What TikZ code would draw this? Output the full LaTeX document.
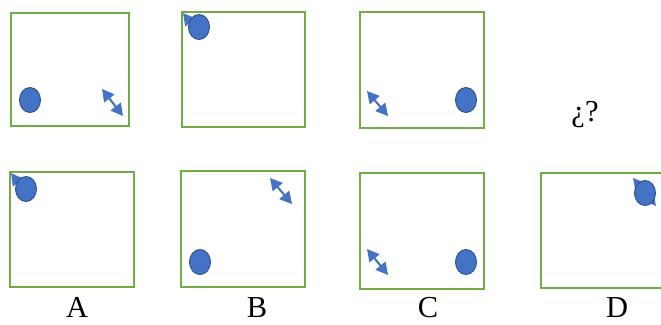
\documentclass[tikz,border=0pt]{standalone}
\usepackage{fontspec}
\setmainfont{Liberation Serif}
\usetikzlibrary{arrows.meta, shapes.geometric}
\definecolor{framegreen}{HTML}{70AD47}
\definecolor{ballblue}{HTML}{4472C4}
\definecolor{balledge}{HTML}{2F528F}
\tikzset{
  frame/.style={draw=framegreen, line width=1.6pt},
  ball/.style={
    ellipse, draw=balledge, line width=0.8pt, fill=ballblue,
    minimum width=6.3mm, minimum height=7.5mm, inner sep=0pt
  },
  flip/.style={
    {Triangle[length=3.6mm,width=3.8mm]}-{Triangle[length=3.6mm,width=3.8mm]},
    line width=1.8pt, draw=ballblue
  },
  letter/.style={font=\fontsize{26}{30}\selectfont, anchor=base, inner sep=0pt}
}
\begin{document}
\begin{tikzpicture}[x=0.03cm, y=-0.03cm]
    \clip (0,0) rectangle (661,324);
    \fill[white] (0,0) rectangle (661,324);

    % Top row
    \draw[frame] (11,13) rectangle (129,126);
    \draw[flip] (102,89) -- (123,116);
    \node[ball] (ballTA) at (30,100) {};

    \draw[frame] (182,12) rectangle (305,127);
    \draw[flip] (183,13) -- (201,36);
    \node[ball] (ballTB) at (199,27) {};

    \draw[frame] (360,12) rectangle (484,128);
    \draw[flip] (367,91) -- (388,116);
    \node[ball] (ballTC) at (466,100) {};

    \node[letter] (ask) at (585,121) {¿?};

    % Bottom row (options)
    \draw[frame] (10,172) rectangle (134,287);
    \draw[flip] (11,173) -- (28,196);
    \node[ball] (ballA) at (26,189) {};

    \draw[frame] (181,171) rectangle (305,287);
    \draw[flip] (270,178) -- (292,204);
    \node[ball] (ballB) at (200,262) {};

    \draw[frame] (360,173) rectangle (484,289);
    \draw[flip] (367,249) -- (388,275);
    \node[ball] (ballC) at (466,262) {};

    \draw[frame] (541,173) rectangle (668,288);
    \draw[flip] (633,178) -- (656,206);
    \node[ball] (ballD) at (645,193) {};

    % Labels
    \node[letter] (labA) at (77,317) {A};
    \node[letter] (labB) at (257,317) {B};
    \node[letter] (labC) at (428,317) {C};
    \node[letter] (labD) at (617,317) {D};
\end{tikzpicture}
\end{document}
